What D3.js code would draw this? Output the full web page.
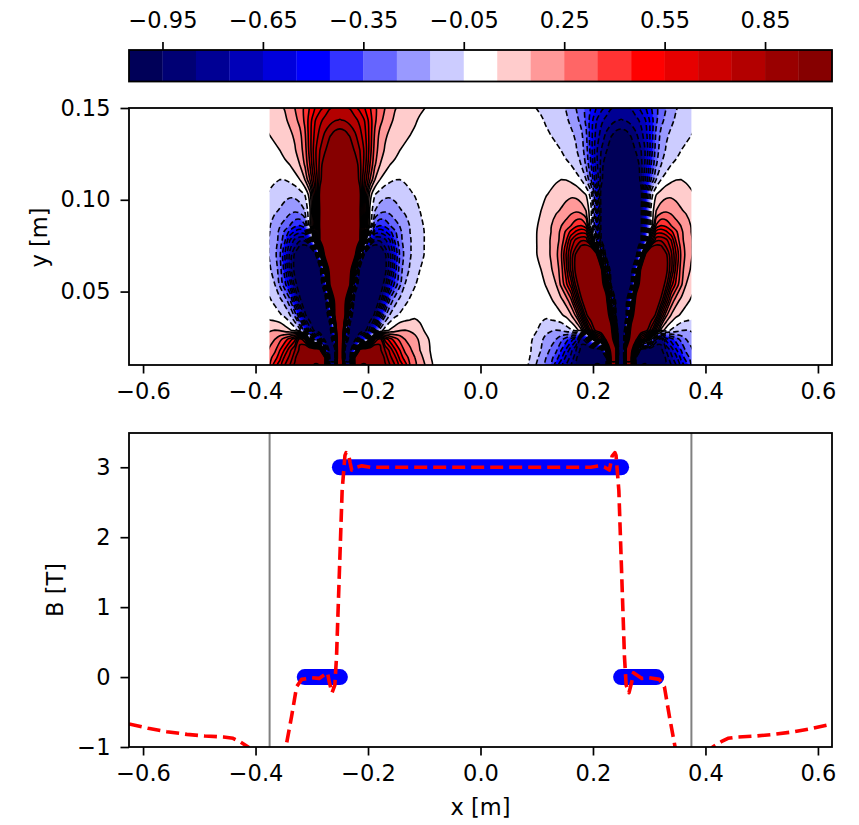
<!DOCTYPE html>
<html>
<head>
<meta charset="utf-8">
<script src="https://cdn.jsdelivr.net/npm/d3@7"></script>
<style>
html, body { margin: 0; padding: 0; background: #fff; }
svg { display: block; }
text { font-family: "DejaVu Sans", sans-serif; fill: #000; }
</style>
</head>
<body>
<svg id="chart" width="859" height="825"></svg>
<script>
// colour bar
const levelEdges = d3.range(22).map(i => +(-1.05 + i * 0.1).toFixed(2));
const barTicks = [-0.95, -0.65, -0.35, -0.05, 0.25, 0.55, 0.85];
const bandColors = ['#000058', '#000074', '#000094', '#0000b8', '#0000dc', '#0000ff', '#3333ff',
    '#6666ff', '#9999ff', '#ccccff', '#ffffff', '#ffcccc', '#ff9999', '#ff6666', '#ff3333',
    '#ff0000', '#e60000', '#cc0000', '#b30000', '#990000', '#860000'];

// columns are distance from the coil centre, rows go from the top of the plot down.
// the other half mirrors it, the right coil is the same field mirrored with opposite sign.
const coilCentres = [-0.25, 0.25];
const coilSigns = [1, -1];
const coilEdge = 0.375;
const fieldOffsets = d3.range(21).map(i => +(i * 0.0089).toFixed(4));
const fieldYs = [0.15, 0.1435, 0.135, 0.127, 0.119, 0.111, 0.103, 0.094, 0.086, 0.0825, 0.078, 0.0743,
    0.07, 0.062, 0.054, 0.045, 0.037, 0.029, 0.024, 0.018, 0.014, 0.01];
const fieldRows = [
    [.77, .76, .745, .68, .62, .55, .46, .37, .30, .25, .20, .155, .13, .11, .09, .075, .065, .05, .03, .015, 0],
    [.855, .84, .81, .78, .72, .64, .50, .37, .28, .22, .17, .135, .115, .095, .08, .06, .04, .02, .01, 0, 0],
    [1.02, 1.0, .94, .87, .79, .68, .51, .33, .22, .165, .13, .11, .085, .065, .05, .035, .02, .01, 0, 0, 0],
    [1.15, 1.12, 1.05, .93, .85, .72, .50, .30, .20, .14, .11, .08, .05, .035, .02, .01, 0, 0, 0, 0, 0],
    [1.3, 1.27, 1.2, 1.05, .88, .70, .45, .26, .15, .10, .05, .03, .01, 0, -.005, -.005, 0, 0, 0, 0, 0],
    [1.4, 1.35, 1.25, 1.1, .90, .62, .35, .15, .05, 0, -.03, -.048, -.05, -.04, -.03, -.02, -.01, -.005, 0, 0, 0],
    [1.5, 1.45, 1.35, 1.2, 1.0, .50, .10, -.045, -.09, -.12, -.13, -.12, -.10, -.08, -.06, -.045, -.03, -.015, -.005, 0, 0],
    [1.6, 1.5, 1.4, 1.25, .97, .47, .03, -.15, -.21, -.235, -.22, -.19, -.16, -.135, -.11, -.08, -.05, -.03, -.01, 0, 0],
    [1.6, 1.55, 1.45, 1.3, .98, .50, .05, -.36, -.45, -.42, -.35, -.29, -.245, -.20, -.145, -.105, -.07, -.04, -.02, -.01, 0],
    [1.6, 1.55, 1.45, 1.3, .96, .40, -.20, -.60, -.62, -.57, -.48, -.37, -.27, -.205, -.15, -.108, -.075, -.045, -.02, -.01, 0],
    [1.6, 1.55, 1.45, 1.28, .95, .30, -.50, -.83, -.83, -.78, -.65, -.43, -.28, -.21, -.16, -.11, -.08, -.045, -.02, -.01, 0],
    [1.55, 1.5, 1.38, 1.2, .60, -.35, -.95, -1.0, -.98, -.85, -.72, -.50, -.31, -.215, -.16, -.11, -.075, -.045, -.02, -.01, 0],
    [1.5, 1.45, 1.3, 1.05, 0, -1.15, -1.2, -1.2, -1.1, -.98, -.78, -.55, -.33, -.22, -.16, -.11, -.07, -.045, -.02, -.01, 0],
    [1.4, 1.3, 1.15, .30, -1.1, -1.3, -1.4, -1.3, -1.15, -1.0, -.78, -.50, -.30, -.19, -.14, -.09, -.05, -.03, -.015, -.005, 0],
    [1.3, 1.15, .98, -.60, -1.2, -1.35, -1.35, -1.2, -1.05, -.90, -.60, -.42, -.27, -.15, -.09, -.055, -.03, -.015, -.01, 0, 0],
    [1.15, 1.05, .20, -1.2, -1.3, -1.25, -1.15, -1.05, -.92, -.60, -.32, -.19, -.12, -.07, -.04, -.02, -.01, 0, 0, 0, 0],
    [1.1, 1.0, -.70, -1.25, -1.2, -1.15, -1.05, -.92, -.55, -.27, -.14, -.07, -.035, -.01, .01, .03, .02, .01, 0, 0, 0],
    [3, 0, -1.1, -1.2, -1.1, -1.0, -.80, -.45, -.12, 0, .06, .10, .14, .15, .14, .12, .08, .04, .01, 0, 0],
    [3, -.60, -1.15, -1.0, -.60, -.40, .10, .75, .92, .62, .50, .40, .32, .25, .21, .18, .13, .08, .04, .01, 0],
    [3, -1.0, -1.1, -.30, 1.1, 1.2, 1.2, 1.15, .98, .85, .72, .57, .45, .33, .27, .21, .15, .10, .05, .01, 0],
    [3, -1.0, -1.0, 1.0, 1.2, 1.2, 1.2, 1.2, 1.1, .92, .78, .68, .52, .40, .32, .25, .19, .12, .06, .02, 0],
    [3, -.9, -.9, .95, .96, .90, 1.1, 1.2, 1.2, .97, .85, .75, .60, .50, .35, .27, .20, .15, .07, .03, 0]
];
const contourLevels = d3.range(10).map(i => +(0.05 + i * 0.1).toFixed(2));

// bottom panel
const xTicks = [-0.6, -0.4, -0.2, 0.0, 0.2, 0.4, 0.6];
const yTicksTop = [0.05, 0.10, 0.15];
const yTicksBottom = [-1, 0, 1, 2, 3];
const targetX = [[-0.3125, -0.25], [-0.25, 0.25], [0.25, 0.3125]];
const targetB = [0, 3, 0];
const curveX = [-0.625, -0.591, -0.558, -0.522, -0.49, -0.457, -0.44, -0.428, -0.413, -0.39, -0.37, -0.346,
    -0.336, -0.327, -0.318, -0.3, -0.287, -0.272, -0.269, -0.264, -0.259, -0.256, -0.255, -0.246, -0.241,
    -0.239, -0.234, -0.232, -0.229, -0.221, -0.211, -0.196, -0.15, -0.1, -0.05, 0, 0.05, 0.1, 0.15, 0.196,
    0.211, 0.221, 0.229, 0.232, 0.234, 0.239, 0.241, 0.246, 0.255, 0.256, 0.259, 0.264, 0.269, 0.272, 0.287,
    0.3, 0.318, 0.327, 0.336, 0.346, 0.37, 0.39, 0.413, 0.428, 0.44, 0.457, 0.49, 0.522, 0.558, 0.591, 0.625];
const curveB = [-0.67, -0.733, -0.781, -0.819, -0.843, -0.857, -0.876, -0.924, -1, -1.4, -1.5, -1,
    -0.567, -0.139, -0.033, -0.01, -0.019, 0.061, -0.067, -0.224, -0.114, 0.29, 0.529, 2.67, 3.17,
    3.21, 3.16, 3.07, 2.96, 3.0, 3.02, 3.0, 3.0, 3.0, 3.0, 3.0, 3.0, 3.0, 3.0, 3.0,
    3.02, 3.0, 2.96, 3.07, 3.16, 3.21, 3.17, 2.67, 0.529, 0.29, -0.114, -0.224, -0.067, 0.061, -0.019,
    -0.01, -0.033, -0.139, -0.567, -1, -1.5, -1.4, -1, -0.924, -0.876, -0.857, -0.843, -0.819, -0.781, -0.733, -0.67];

const left = 129, right = 832;
const fontSize = 22.5;
const svg = d3.select("#chart");

const x = d3.scaleLinear().domain([-0.625, 0.625]).range([left, right]);
const yTop = d3.scaleLinear().domain([0.01, 0.15]).range([365, 108]);
const yBottom = d3.scaleLinear().domain([-1, 3.49]).range([747, 433]);
const barX = d3.scaleLinear().domain([-1.05, 1.05]).range([left, right]);

function styleAxis(g) {
    g.selectAll("text").attr("font-size", fontSize).style("font-family", '"DejaVu Sans", sans-serif');
    g.selectAll(".tick line").attr("stroke", "#000").attr("stroke-width", 1.7);
    g.select(".domain").remove();
}

function frame(top, bottom) {
    svg.append("rect")
        .attr("x", left).attr("y", top)
        .attr("width", right - left).attr("height", bottom - top)
        .attr("fill", "none").attr("stroke", "#000").attr("stroke-width", 1.8);
}

///
/// COLOUR BAR
///

svg.append("g").selectAll("rect")
    .data(bandColors)
    .join("rect")
    .attr("x", (d, i) => barX(levelEdges[i]))
    .attr("y", 50)
    .attr("width", (d, i) => barX(levelEdges[i + 1]) - barX(levelEdges[i]) + 0.3)
    .attr("height", 31.5)
    .attr("fill", d => d);
frame(50, 81.5);

svg.append("g")
    .attr("transform", "translate(0,50)")
    .call(d3.axisTop(barX).tickValues(barTicks).tickFormat(d3.format(".2f")).tickSize(8).tickPadding(13.7))
    .call(styleAxis);

///
/// CONTOUR PANEL
///

const defs = svg.append("defs");
defs.append("clipPath").attr("id", "clip-top").append("rect")
    .attr("x", x(-coilEdge)).attr("y", yTop(0.15))
    .attr("width", x(coilEdge) - x(-coilEdge)).attr("height", yTop(0.01) - yTop(0.15));
defs.append("clipPath").attr("id", "clip-bottom").append("rect")
    .attr("x", left).attr("y", 433)
    .attr("width", right - left).attr("height", 314);

const contourGroup = svg.append("g").attr("clip-path", "url(#clip-top)");
const fillGroup = contourGroup.append("g");
const lineGroup = contourGroup.append("g");

function drawCoil(centre, sign) {
    // full width grid from the half table
    const offsets = fieldOffsets.slice(1).reverse().map(d => -d).concat(fieldOffsets);
    const nx = offsets.length, ny = fieldYs.length;
    const mid = fieldOffsets.length - 1;
    const values = [];
    fieldRows.forEach(row => {
        d3.range(nx).forEach(i => values.push(sign * row[Math.abs(i - mid)]));
    });

    // grid index to screen, contours put grid points at index + 0.5
    const gridX = d3.scaleLinear().domain(offsets.map((d, i) => i + 0.5)).range(offsets.map(d => x(centre + d)));
    const gridY = d3.scaleLinear().domain(fieldYs.map((d, i) => i + 0.5)).range(fieldYs.map(d => yTop(d)));
    const path = d3.line()
        .x(p => gridX(p[0]))
        .y(p => gridY(p[1]))
        .curve(d3.curveCatmullRomClosed.alpha(0.5));
    const ringsToPath = c => c.coordinates.map(poly => poly.map(ring => path(ring.slice(0, -1))).join("")).join("");

    const contours = d3.contours().size([nx, ny]).smooth(true).thresholds(contourLevels);
    const positive = contours(values);
    const negative = contours(values.map(v => -v));

    [[positive, 1], [negative, -1]].forEach(([set, s]) => {
        set.forEach((c, k) => {
            const d = ringsToPath(c);
            const band = 10 + s * (k + 1);
            fillGroup.append("path")
                .attr("d", d)
                .attr("fill", bandColors[band])
                .attr("fill-rule", "evenodd");
            lineGroup.append("path")
                .attr("d", d)
                .attr("fill", "none")
                .attr("stroke", "#000")
                .attr("stroke-width", 1.6)
                .attr("stroke-dasharray", s < 0 ? "5.5,3" : null);
        });
    });
}

coilCentres.forEach((c, i) => drawCoil(c, coilSigns[i]));

frame(108, 365);

svg.append("g")
    .attr("transform", "translate(0,365)")
    .call(d3.axisBottom(x).tickValues(xTicks).tickFormat(d3.format(".1f")).tickSize(8.5).tickPadding(10))
    .call(styleAxis);
svg.append("g")
    .attr("transform", `translate(${left},0)`)
    .call(d3.axisLeft(yTop).tickValues(yTicksTop).tickFormat(d3.format(".2f")).tickSize(8.5).tickPadding(10))
    .call(styleAxis);
svg.append("text")
    .attr("transform", "translate(46.7,237.5) rotate(-90)")
    .attr("text-anchor", "middle")
    .attr("font-size", fontSize)
    .text("y [m]");

///
/// FIELD PROFILE PANEL
///

const profile = svg.append("g").attr("clip-path", "url(#clip-bottom)");

profile.selectAll(".edge")
    .data([-coilEdge, coilEdge])
    .join("line")
    .attr("class", "edge")
    .attr("x1", d => x(d)).attr("x2", d => x(d))
    .attr("y1", 433).attr("y2", 747)
    .attr("stroke", "#808080").attr("stroke-width", 2);

profile.selectAll(".target")
    .data(targetB)
    .join("line")
    .attr("class", "target")
    .attr("x1", (d, i) => x(targetX[i][0])).attr("x2", (d, i) => x(targetX[i][1]))
    .attr("y1", d => yBottom(d)).attr("y2", d => yBottom(d))
    .attr("stroke", "#0000ff").attr("stroke-width", 16).attr("stroke-linecap", "round");

const curveLine = d3.line().x(d => x(d)).y((d, i) => yBottom(curveB[i]));
profile.append("path")
    .attr("d", curveLine(curveX))
    .attr("fill", "none")
    .attr("stroke", "#ff0000").attr("stroke-width", 3.6)
    .attr("stroke-linejoin", "round")
    .attr("stroke-dasharray", "13,6");

frame(433, 747);

svg.append("g")
    .attr("transform", "translate(0,747)")
    .call(d3.axisBottom(x).tickValues(xTicks).tickFormat(d3.format(".1f")).tickSize(8.5).tickPadding(10))
    .call(styleAxis);
svg.append("g")
    .attr("transform", `translate(${left},0)`)
    .call(d3.axisLeft(yBottom).tickValues(yTicksBottom).tickFormat(d3.format("d")).tickSize(8.5).tickPadding(10))
    .call(styleAxis);
svg.append("text")
    .attr("transform", "translate(63,590) rotate(-90)")
    .attr("text-anchor", "middle")
    .attr("font-size", fontSize)
    .text("B [T]");
svg.append("text")
    .attr("x", 480.5).attr("y", 815)
    .attr("text-anchor", "middle")
    .attr("font-size", fontSize)
    .text("x [m]");
</script>
</body>
</html>
